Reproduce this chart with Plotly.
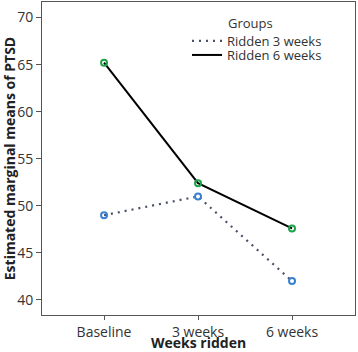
import plotly.graph_objects as go

categories = ["Baseline", "3 weeks", "6 weeks"]
ridden_3_weeks = [49.0, 51.0, 42.0]
ridden_6_weeks = [65.2, 52.4, 47.6]
y_ticks = [40, 45, 50, 55, 60, 65, 70]

FONT = "Open Sans"
fig = go.Figure()

# lines (legend entries)
fig.add_trace(go.Scatter(x=categories, y=ridden_3_weeks, mode="lines",
                         name="Ridden 3 weeks", legend="legend",
                         line=dict(color="#4a5068", width=2.2, dash="2px,5px")))
fig.add_trace(go.Scatter(x=categories, y=ridden_6_weeks, mode="lines",
                         name="Ridden 6 weeks", legend="legend2",
                         line=dict(color="black", width=2)))
# markers
fig.add_trace(go.Scatter(x=categories, y=ridden_3_weeks, mode="markers", showlegend=False,
                         marker=dict(symbol="circle-open", size=6, color="#3a80d0",
                                     line=dict(width=2, color="#3a80d0"))))
fig.add_trace(go.Scatter(x=categories, y=ridden_6_weeks, mode="markers", showlegend=False,
                         marker=dict(symbol="circle-open", size=6, color="#1fa34a",
                                     line=dict(width=2, color="#1fa34a"))))

PW, PH = 313, 313
leg_common = dict(xanchor="left", yanchor="middle", bgcolor="rgba(0,0,0,0)",
                  font=dict(size=13, color="#333333"), itemwidth=30)
fig.update_layout(
    width=358, height=352,
    margin=dict(l=42, r=3, t=2, b=37, autoexpand=False),
    plot_bgcolor="white", paper_bgcolor="white",
    font=dict(family=FONT, size=14, color="#333333"),
    showlegend=True,
    legend=dict(x=(187 - 42) / PW, y=1 - (41 - 2) / PH, **leg_common),
    legend2=dict(x=(187 - 42) / PW, y=1 - (55 - 2) / PH, **leg_common),
    annotations=[
        dict(text="Groups", xref="paper", yref="paper",
             x=(226 - 42) / PW, y=1 - (23 - 2) / PH,
             xanchor="left", yanchor="middle", showarrow=False,
             font=dict(size=13, color="#333333")),
        dict(text="<b>Weeks ridden</b>", xref="paper", yref="paper",
             x=(198 - 42) / PW, y=-(342.5 - 315) / PH,
             xanchor="center", yanchor="middle", showarrow=False,
             font=dict(size=14, color="#222222")),
    ],
)

fig.update_xaxes(type="category", range=[-0.66, 2.67], automargin=False,
                 showline=True, linecolor="#555555", linewidth=1, mirror=True,
                 ticks="outside", ticklen=4, tickcolor="#555555",
                 showgrid=False, zeroline=False)
fig.update_yaxes(range=[38.4, 71.65], tickvals=y_ticks, automargin=False,
                 showline=True, linecolor="#555555", linewidth=1, mirror=True,
                 ticks="outside", ticklen=5, tickcolor="#555555",
                 showgrid=False, zeroline=False,
                 title=dict(text="<b>Estimated marginal means of PTSD</b>",
                            font=dict(size=14, color="#222222"), standoff=0))

fig.write_html("out.html", config={"displayModeBar": False},
               post_script="document.body.style.margin='0';")
